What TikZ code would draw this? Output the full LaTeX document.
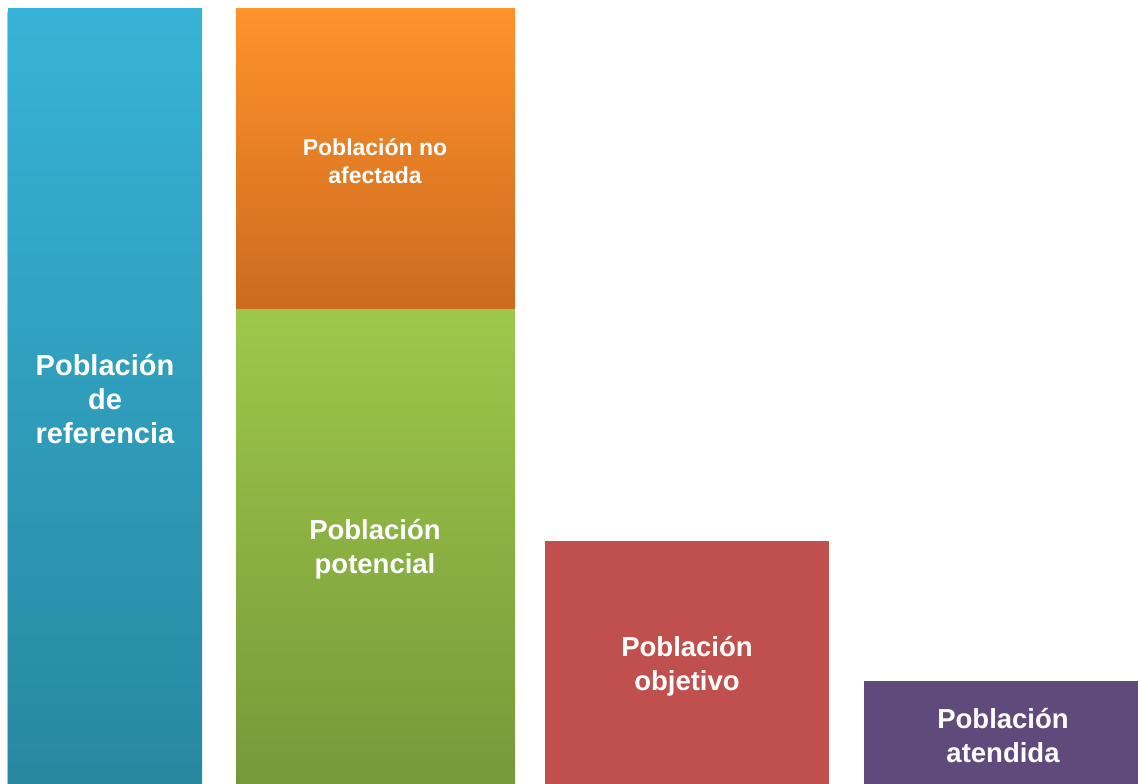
\documentclass[tikz,border=0pt]{standalone}
\usepackage{fontspec}
\setmainfont{Liberation Sans}
\definecolor{bluetop}{HTML}{37B3D7}
\definecolor{bluebot}{HTML}{2788A0}
\definecolor{orgtop}{HTML}{FF922B}
\definecolor{orgbot}{HTML}{CC6A1E}
\definecolor{grntop}{HTML}{9DC84B}
\definecolor{grnbot}{HTML}{779839}
\definecolor{redbox}{HTML}{C0504D}
\definecolor{purbox}{HTML}{604A7B}
\begin{document}
\begin{tikzpicture}[x=1pt,y=-1pt,
  lbl/.style={text=white,font=\bfseries\fontsize{27.5}{34}\selectfont,align=center,inner sep=0pt},
  lblbig/.style={text=white,font=\bfseries\fontsize{29}{34}\selectfont,align=center,inner sep=0pt},
  lblsm/.style={text=white,font=\bfseries\fontsize{23}{28}\selectfont,align=center,inner sep=0pt}]
\useasboundingbox (0,0) rectangle (1138,784);
% shadow edge of blue bar
\fill[black!25] (6.5,12) rectangle (8,784);
\shade[top color=bluetop,bottom color=bluebot] (8,9) rectangle (202,784);
\shade[top color=orgtop,bottom color=orgbot] (236,9) rectangle (515,309);
\shade[top color=grntop,bottom color=grnbot] (236,309) rectangle (515,784);
\fill[redbox] (545,541) rectangle (829,784);
\fill[purbox] (864,681) rectangle (1138,784);
\node[lblbig] (ref) at (105,399) {Población\\de\\referencia};
\node[lblsm] (noaf) at (375,161) {Población no\\afectada};
\node[lbl] (pot) at (375,549) {Población\\potencial};
\node[lbl] (obj) at (687,666) {Población\\objetivo};
\node[lbl] (ate) at (1003,736) {Población\\atendida};
\end{tikzpicture}
\end{document}
